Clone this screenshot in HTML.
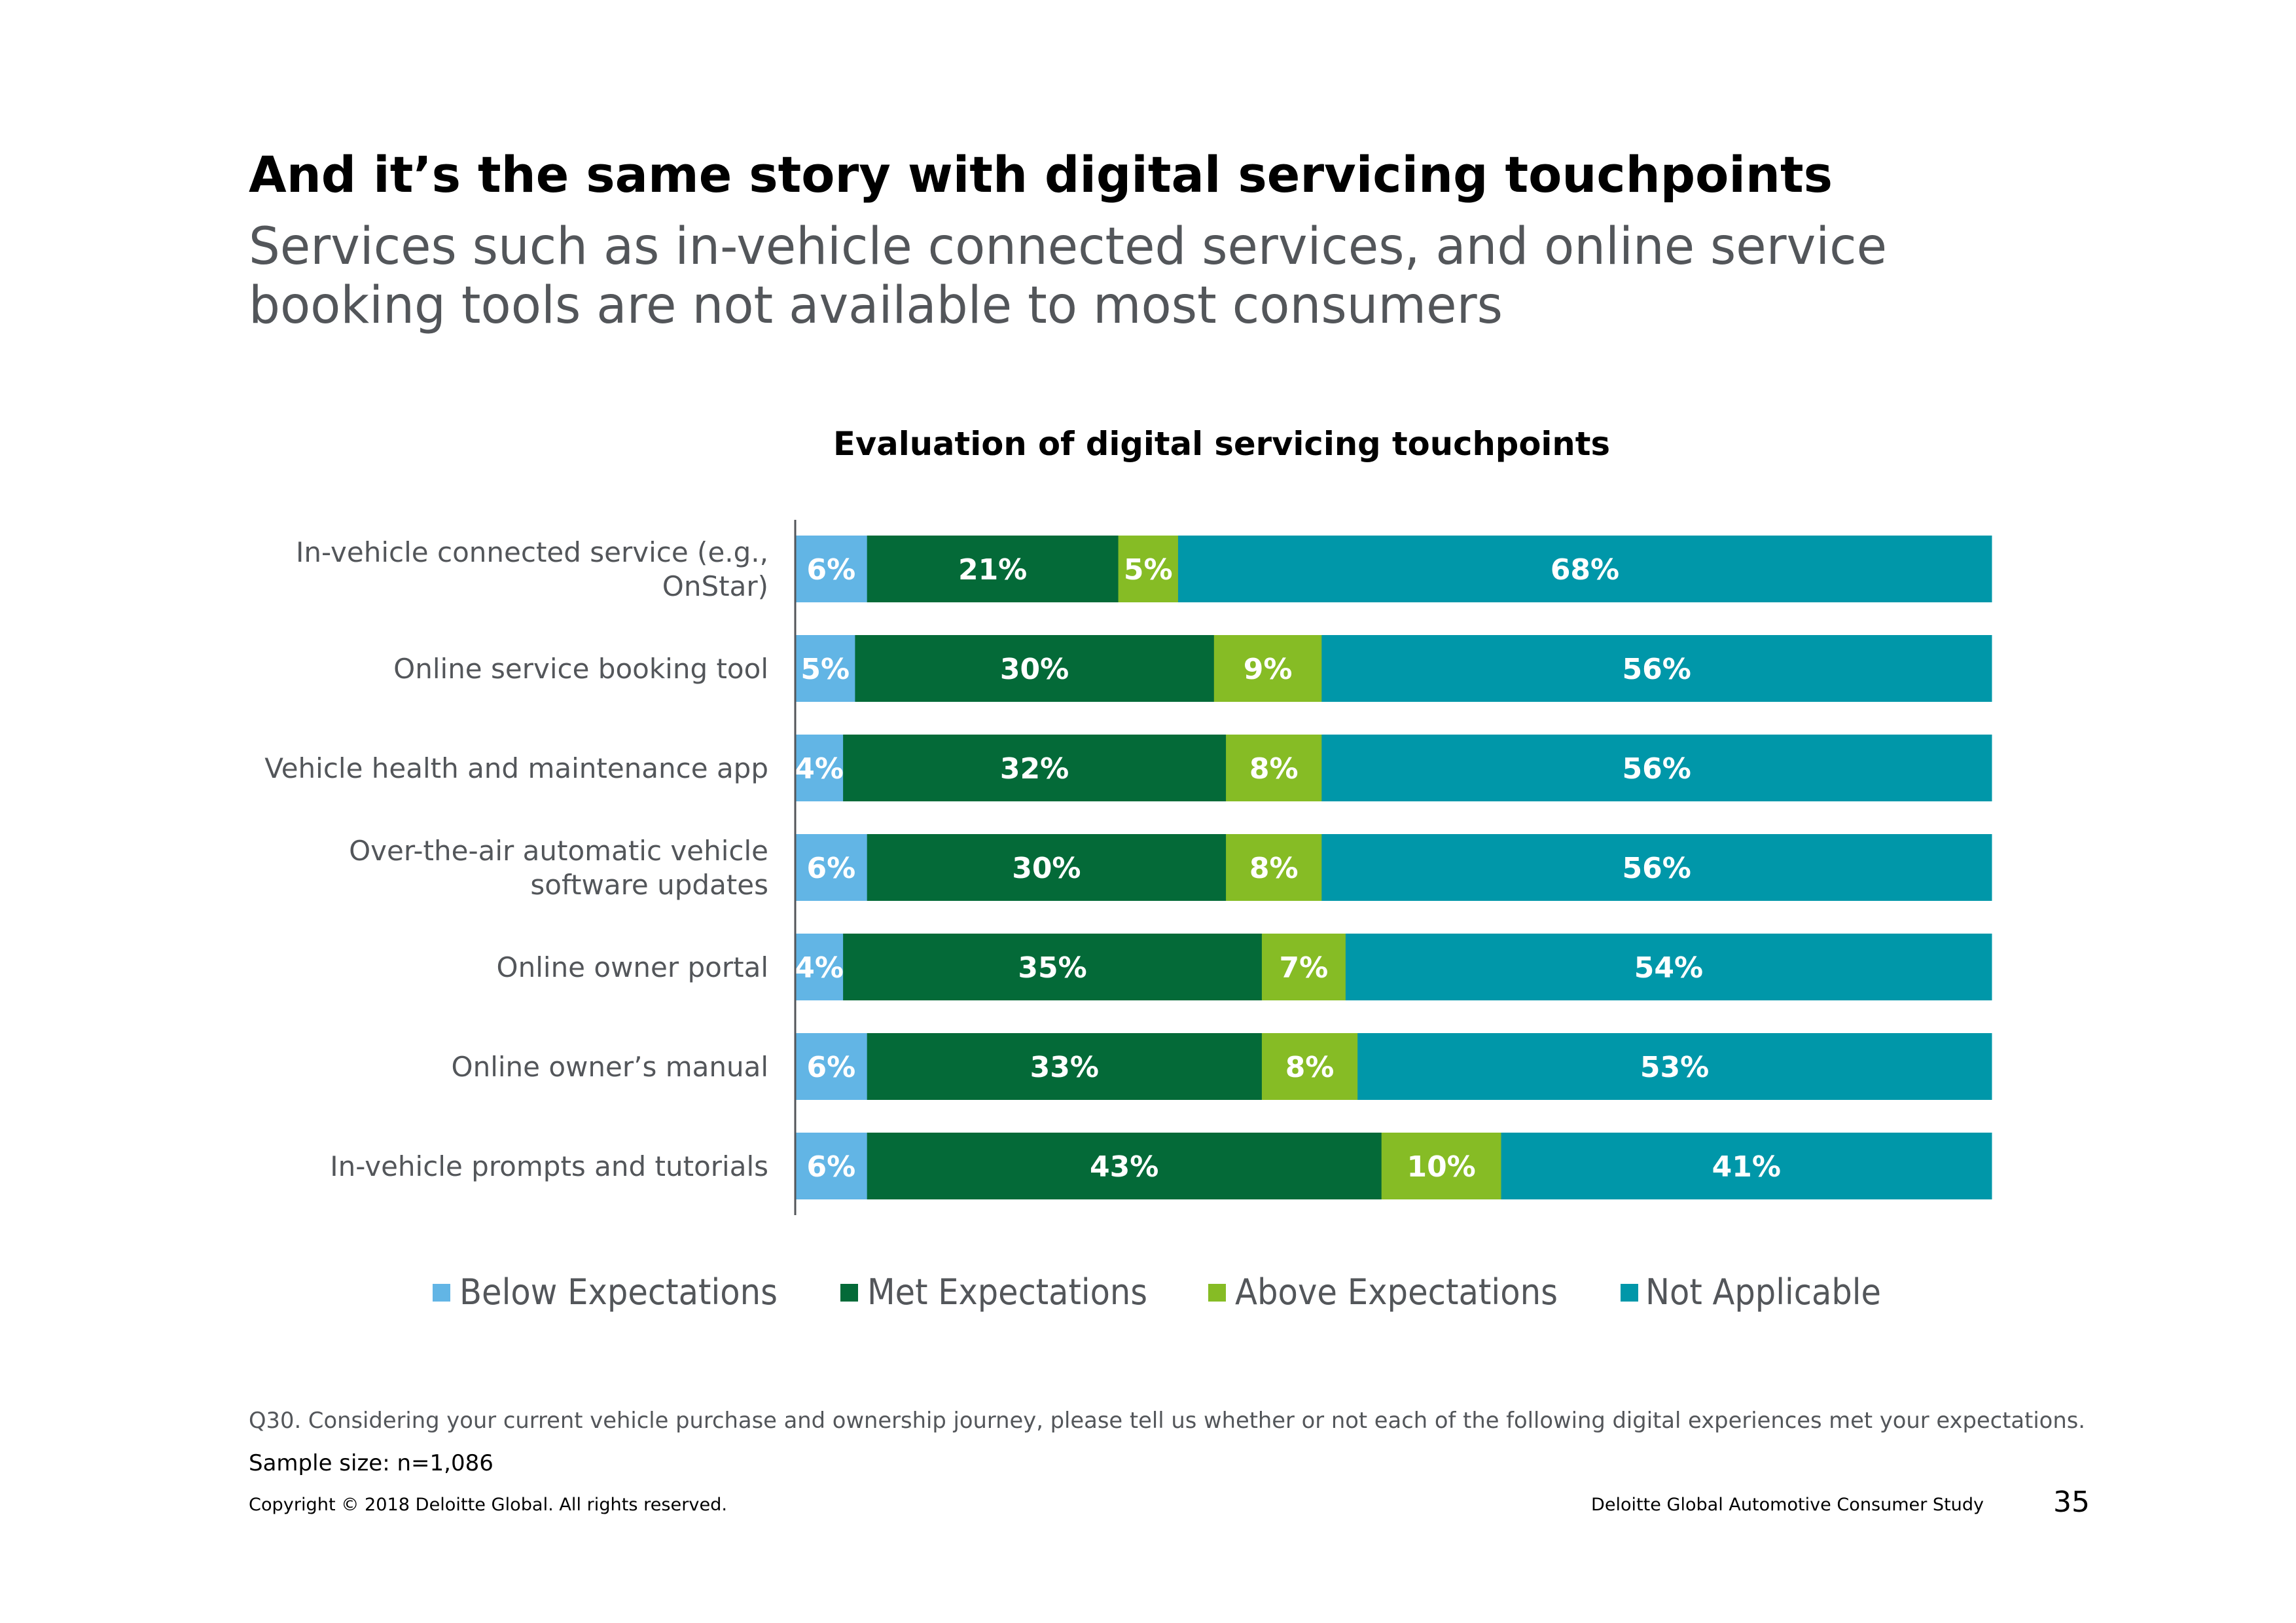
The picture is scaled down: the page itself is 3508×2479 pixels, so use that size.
<!DOCTYPE html>
<html><head><meta charset="utf-8"><style>
html,body{margin:0;padding:0;background:#fff;}
svg{display:block;font-family:"DejaVu Sans","Liberation Sans",sans-serif;}
</style></head><body>
<svg width="3508" height="2479" viewBox="0 0 3508 2479" xmlns="http://www.w3.org/2000/svg">
<text x="380" y="293" font-size="76" font-weight="bold" fill="#000" textLength="2420" lengthAdjust="spacingAndGlyphs">And it’s the same story with digital servicing touchpoints</text>
<text x="380" y="403" font-size="78" fill="#53565a" textLength="2503" lengthAdjust="spacingAndGlyphs">Services such as in-vehicle connected services, and online service</text>
<text x="380" y="493" font-size="78" fill="#53565a" textLength="1916" lengthAdjust="spacingAndGlyphs">booking tools are not available to most consumers</text>
<text x="1273" y="695" font-size="50" font-weight="bold" fill="#000" textLength="1187" lengthAdjust="spacingAndGlyphs">Evaluation of digital servicing touchpoints</text>
<g id="chart"></g>
<line x1="1215" y1="794" x2="1215" y2="1856" stroke="#53565a" stroke-width="3"/>
<g>
<rect x="661" y="1961" width="27" height="27" fill="#62b5e5"/>
<text x="702" y="1992" font-size="54" fill="#53565a" textLength="486" lengthAdjust="spacingAndGlyphs">Below Expectations</text>
<rect x="1284" y="1961" width="27" height="27" fill="#046a38"/>
<text x="1325" y="1992" font-size="54" fill="#53565a" textLength="428" lengthAdjust="spacingAndGlyphs">Met Expectations</text>
<rect x="1846" y="1961" width="27" height="27" fill="#86bc25"/>
<text x="1887" y="1992" font-size="54" fill="#53565a" textLength="493" lengthAdjust="spacingAndGlyphs">Above Expectations</text>
<rect x="2476" y="1961" width="27" height="27" fill="#0097a9"/>
<text x="2514" y="1992" font-size="54" fill="#53565a" textLength="360" lengthAdjust="spacingAndGlyphs">Not Applicable</text>
</g>
<text x="380" y="2181" font-size="34" fill="#53565a" textLength="2806" lengthAdjust="spacingAndGlyphs">Q30. Considering your current vehicle purchase and ownership journey, please tell us whether or not each of the following digital experiences met your expectations.</text>
<text x="380" y="2246" font-size="34" fill="#000">Sample size: n=1,086</text>
<text x="380" y="2307" font-size="27" fill="#000" textLength="731" lengthAdjust="spacingAndGlyphs">Copyright © 2018 Deloitte Global. All rights reserved.</text>
<text x="3031" y="2307" font-size="27" fill="#000" text-anchor="end" textLength="600" lengthAdjust="spacingAndGlyphs">Deloitte Global Automotive Consumer Study</text>
<text x="3193" y="2309" font-size="44" fill="#000" text-anchor="end">35</text>
</svg>
<script>
const categories = [
  ["In-vehicle connected service (e.g.,","OnStar)"],
  ["Online service booking tool"],
  ["Vehicle health and maintenance app"],
  ["Over-the-air automatic vehicle","software updates"],
  ["Online owner portal"],
  ["Online owner’s manual"],
  ["In-vehicle prompts and tutorials"]
];
const below = [6,5,4,6,4,6,6];
const met = [21,30,32,30,35,33,43];
const above = [5,9,8,8,7,8,10];
const notApplicable = [68,56,56,56,54,53,41];
const seriesNames = ["below","met","above","not-applicable"];
const colors = ["#62b5e5","#046a38","#86bc25","#0097a9"];

const NS = "http://www.w3.org/2000/svg";
const g = document.getElementById("chart");
const x0 = 1215, x1 = 3043, top0 = 818, pitch = 152, barH = 102;
function xScale(v, total){ return (x1 - x0) * v / total; }
function yBand(i){ return top0 + i * pitch; }
function mk(tag, attrs){ const e = document.createElementNS(NS, tag); for (const k in attrs) e.setAttribute(k, attrs[k]); return e; }

categories.forEach((cat, i) => {
  const vals = [below[i], met[i], above[i], notApplicable[i]];
  const total = vals.reduce((a,b)=>a+b,0);
  let x = x0;
  const y = yBand(i);
  vals.forEach((v, s) => {
    const w = xScale(v, total);
    const r = mk("rect", {x: x, y: y, width: w + 0.5, height: barH, fill: colors[s]});
    
    
    g.appendChild(r);
    const t = mk("text", {x: x + w/2, y: y + barH/2 + 16, "font-size": 44, "font-weight": "bold", fill: "#fff", "text-anchor": "middle"});
    t.textContent = v + "%";
    
    
    g.appendChild(t);
    x += w;
  });
  const cy = y + barH/2;
  cat.forEach((line, j) => {
    const ly = cat.length === 1 ? cy + 15 : cy + 15 + (j - 0.5) * 52;
    const t = mk("text", {x: 1174, y: ly, "font-size": 42, fill: "#53565a", "text-anchor": "end"});
    t.textContent = line;
    
    
    g.appendChild(t);
  });
});
</script>
</body></html>
